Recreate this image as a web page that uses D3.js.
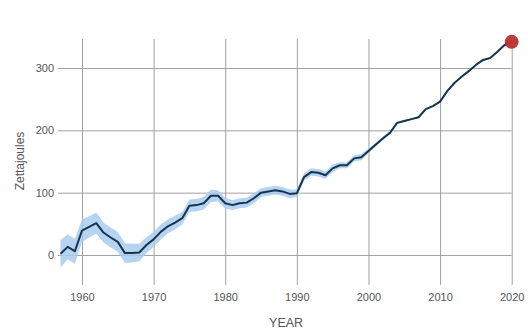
<!DOCTYPE html>
<html>
<head>
<meta charset="utf-8">
<script src="https://cdn.jsdelivr.net/npm/d3@7"></script>
<style>
  html, body { margin: 0; padding: 0; background: #fff; }
  svg { display: block; font-family: "Liberation Sans", Arial, sans-serif; }
</style>
</head>
<body>
<svg id="chart" width="528" height="335"></svg>
<script>
// Ocean heat content, yearly, with uncertainty range
const years = d3.range(1957, 2021);
const heat = [
  2, 13, 6, 39, 45, 51, 36, 28, 21, 3,
  3, 4, 16, 25, 37, 46, 52, 59, 79, 80,
  83, 95, 95, 83, 80, 83, 84, 91, 100, 102,
  104, 102, 98, 99, 125, 133, 132, 128, 139, 144,
  144, 155, 157, 167, 177, 187, 196, 212, 215, 218,
  221, 234, 239, 246, 263, 276, 286, 295, 305, 313,
  316, 326, 337, 342
];
const uncertainty = [
  22, 20, 20, 18, 17, 17, 16, 16, 16, 16,
  15, 14, 13, 12, 12, 11, 11, 10, 10, 10,
  10, 10, 9, 9, 8, 8, 8, 8, 7, 7,
  7, 7, 7, 6, 6, 6, 6, 6, 6, 5,
  5, 5, 5, 4, 3, 3, 2, 2, 1.5, 1.5,
  1.5, 1.5, 1, 1, 1, 1, 1, 1, 1, 1,
  1, 1, 1, 1
];
const xTicks = [1960, 1970, 1980, 1990, 2000, 2010, 2020];
const yTicks = [0, 100, 200, 300];

const series = years.map((y, i) => ({ year: y, value: heat[i], err: uncertainty[i] }));

const svg = d3.select("#chart");
const plotLeft = 60.5, plotRight = 511.7, plotTop = 39, plotBottom = 285;

const x = d3.scaleLinear().domain([1957, 2020]).range([plotLeft, plotRight]);
const y = d3.scaleLinear().domain([-48.2, 346.6]).range([plotBottom, plotTop]);

// vertical grid with year labels
const xAxis = svg.append("g").attr("transform", `translate(0,${plotBottom})`)
  .call(d3.axisBottom(x).tickValues(xTicks).tickFormat(d3.format("d"))
    .tickSize(0).tickPadding(6));
xAxis.select(".domain").remove();
xAxis.selectAll(".tick line")
  .attr("y1", -(plotBottom - plotTop)).attr("y2", 0).attr("stroke", "#a0a0a0");
xAxis.selectAll(".tick text").attr("y", 8).attr("dy", "0.71em")
  .attr("fill", "#555").attr("font-size", 11)
  .attr("font-family", "'Liberation Sans', Arial, sans-serif");

// horizontal grid with value labels
const yAxis = svg.append("g").attr("transform", `translate(${plotRight},0)`)
  .call(d3.axisLeft(y).tickValues(yTicks).tickSize(plotRight - 58).tickPadding(4));
yAxis.select(".domain").remove();
yAxis.selectAll(".tick line").attr("stroke", "#a0a0a0");
yAxis.selectAll(".tick text").attr("fill", "#555").attr("font-size", 11)
  .attr("font-family", "'Liberation Sans', Arial, sans-serif");

// uncertainty band
svg.append("path").datum(series)
  .attr("fill", "#a9cdef").attr("fill-opacity", 0.85)
  .attr("d", d3.area().x(d => x(d.year)).y0(d => y(d.value - d.err)).y1(d => y(d.value + d.err)));

// central estimate
svg.append("path").datum(series)
  .attr("fill", "none").attr("stroke", "#17344f").attr("stroke-width", 2)
  .attr("stroke-linejoin", "round")
  .attr("d", d3.line().x(d => x(d.year)).y(d => y(d.value)));

// latest year marker
const last = series[series.length - 1];
svg.append("circle").attr("cx", x(last.year)).attr("cy", y(last.value)).attr("r", 7)
  .attr("fill", "#b83232").attr("fill-opacity", 0.95);

// axis titles
svg.append("text").attr("x", (plotLeft + plotRight) / 2).attr("y", 327)
  .attr("text-anchor", "middle").attr("fill", "#555").attr("font-size", 12.5).text("YEAR");
svg.append("text").attr("transform", `translate(24,161) rotate(-90)`)
  .attr("text-anchor", "middle").attr("fill", "#555").attr("font-size", 12).text("Zettajoules");
</script>
</body>
</html>
